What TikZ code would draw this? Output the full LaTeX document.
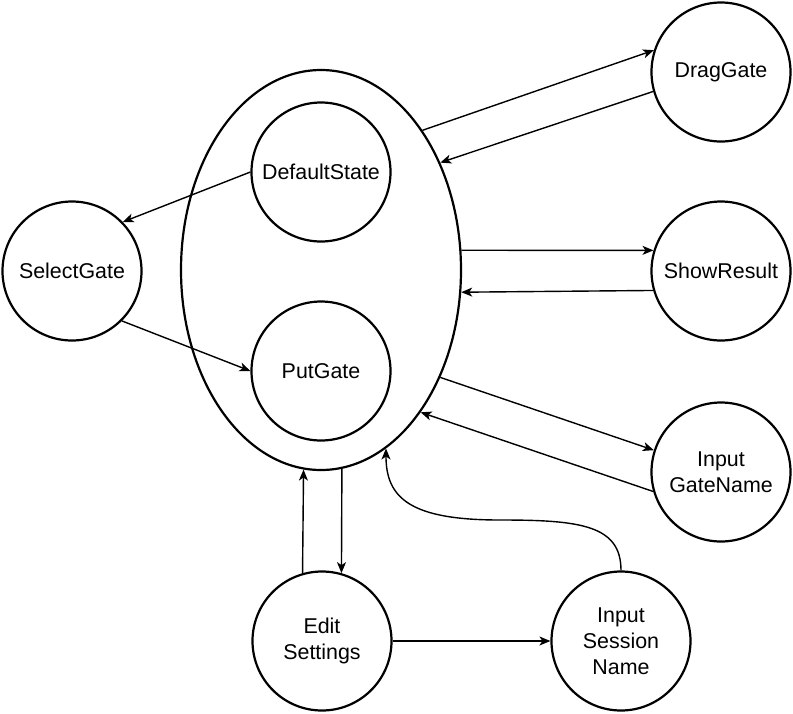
\documentclass[tikz,border=0pt]{standalone}
\usepackage{fontspec}
\setmainfont{Liberation Sans}
\usetikzlibrary{shapes.geometric,arrows.meta}
\begin{document}
\begin{tikzpicture}[x=1pt,y=-1pt,
  statebox/.style={circle,draw,line width=2.2pt,minimum size=139pt,inner sep=0pt,align=center,
    font=\fontsize{21.4}{26}\selectfont},
  outerbox/.style={ellipse,draw,line width=2.2pt,minimum width=280pt,minimum height=400pt,inner sep=0pt},
  conn/.style={line width=1.4pt,-{Stealth[length=11pt,width=9pt,inset=3pt]}}]
\useasboundingbox (0,0) rectangle (793,713);
\node[outerbox] (ell) at (321,270) {};
\node[statebox] (ds) at (321,172) {DefaultState};
\node[statebox] (pg) at (321,371) {PutGate};
\node[statebox] (sg) at (72,271) {SelectGate};
\node[statebox] (dg) at (721,72) {DragGate};
\node[statebox] (sr) at (721,271) {ShowResult};
\node[statebox] (ign) at (721,472) {Input\\GateName};
\node[statebox] (es) at (322,641) {Edit\\Settings};
\node[statebox] (isn) at (621,641) {Input\\Session\\Name};
\draw[conn] (ell.54.4) -- (dg.162.8);
\draw[conn] (dg.196) -- (ell.42.8);
\draw[conn] (ell.8.1) -- (sr.163.3);
\draw[conn] (sr.196) -- (ell.-9);
\draw[conn] (ell.-42.8) -- (ign.162);
\draw[conn] (ign.196) -- (ell.-55.3);
\draw[conn] (ds.180) -- (sg.44.4);
\draw[conn] (sg.-45.6) -- (pg.180);
\draw[conn] (es.106.9) -- (ell.-95.7);
\draw[conn] (ell.-84.3) -- (es.74.6);
\draw[conn] (es) -- (isn);
\coordinate (mid) at (500,520);
\draw[conn] (isn.north) .. controls (621,525) and (580,520) .. (mid)
  .. controls (410,520) and (386,498) .. (ell.-70.6);
\end{tikzpicture}
\end{document}
